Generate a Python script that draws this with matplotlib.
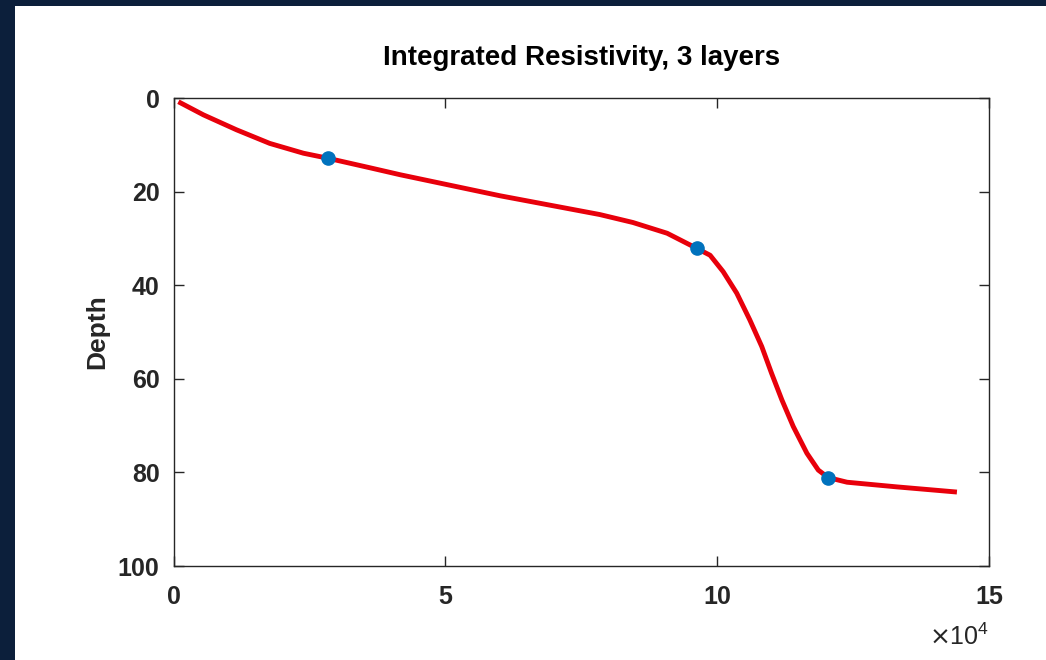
import matplotlib
matplotlib.use("Agg")
import matplotlib.pyplot as plt
from matplotlib.patches import Rectangle
import numpy as np

# Integrated resistivity curve (x in units of 1e4)
resistivity = [0.09, 0.55, 1.16, 1.77, 2.39, 2.85, 3.61, 4.17, 6.01, 7.84, 8.45,
               9.08, 9.62, 9.87, 10.11, 10.36, 10.60, 10.82, 11.00, 11.19, 11.40,
               11.65, 11.86, 12.04, 12.39, 13.31, 14.41]
depth = [0.8, 3.6, 6.8, 9.7, 11.8, 12.9, 14.9, 16.4, 20.9, 24.9, 26.6,
         28.9, 32.1, 33.6, 37.1, 41.7, 47.4, 53.1, 58.8, 64.5, 70.2,
         75.9, 79.5, 81.1, 82.1, 83.1, 84.2]

# Layer boundaries
layer_x = [2.85, 9.62, 12.04]
layer_depth = [12.9, 32.1, 81.1]

x_ticks = [0, 5, 10, 15]
y_ticks = [0, 20, 40, 60, 80, 100]

plt.rcParams['font.family'] = ['Liberation Sans', 'DejaVu Sans']

fig = plt.figure(figsize=(10.46, 6.6), dpi=100)
fig.patch.set_facecolor('white')
navy = '#0c1f3b'
fig.patches.append(Rectangle((0, 0), 15 / 1046, 1, transform=fig.transFigure,
                             facecolor=navy, edgecolor='none', zorder=0))
fig.patches.append(Rectangle((0, 1 - 6 / 660), 1, 6 / 660, transform=fig.transFigure,
                             facecolor=navy, edgecolor='none', zorder=0))

ax = fig.add_axes([173.5 / 1046, 1 - 566 / 660, (989 - 173.5) / 1046, (566 - 98) / 660])

xs = np.array(resistivity) * 1e4
ax.plot(xs, depth, color='#e8000b', linewidth=3.5, solid_joinstyle='round',
        solid_capstyle='butt', zorder=2)
ax.plot(np.array(layer_x) * 1e4, layer_depth, linestyle='none', marker='o',
        markersize=9.5, color='#0072BD', zorder=3)

ax.set_xlim(0, 15e4)
ax.set_ylim(100, 0)
ax.set_xticks([t * 1e4 for t in x_ticks])
ax.set_xticklabels([str(t) for t in x_ticks])
ax.set_yticks(y_ticks)
ax.set_yticklabels([str(t) for t in y_ticks])

ax.tick_params(direction='in', length=7, width=1, top=True, right=True,
               labelsize=18, colors='#262626')
ax.tick_params(axis='x', pad=14)
ax.tick_params(axis='y', pad=10)
for lab in ax.get_xticklabels() + ax.get_yticklabels():
    lab.set_fontweight('bold')
for sp in ax.spines.values():
    sp.set_linewidth(1)
    sp.set_color('#262626')

ax.set_ylabel('Depth', fontsize=19, fontweight='bold', color='#262626', labelpad=6)
ax.set_title('Integrated Resistivity, 3 layers', fontsize=20, fontweight='bold',
             color='black', pad=24)
ax.text(1.0, -0.151, r'$\times\mathregular{10^4}$', transform=ax.transAxes,
        ha='right', va='center', fontsize=18, color='#262626')

fig.savefig('out.png', dpi=100, facecolor='white')
